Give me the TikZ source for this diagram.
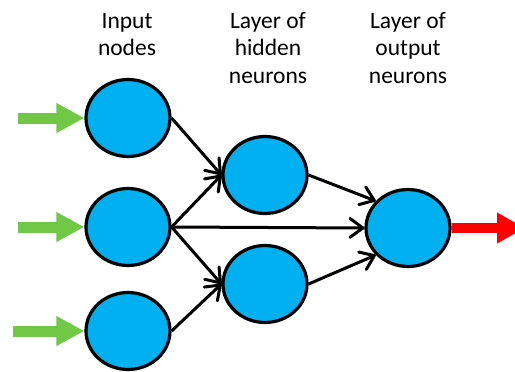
\documentclass[tikz,border=0pt]{standalone}
\usepackage{fontspec}
\setmainfont{Carlito}
\usepackage{tikz}
\usetikzlibrary{shapes.geometric,arrows.meta}
\definecolor{neuronblue}{RGB}{0,176,240}
\definecolor{ingreen}{RGB}{112,200,70}
\definecolor{outred}{RGB}{255,0,0}
\tikzset{
  neuron/.style={ellipse,draw=black,fill=neuronblue,line width=3.2pt,minimum width=84pt,minimum height=77pt,inner sep=0pt},
  link/.style={line width=3pt,-{Straight Barb[length=13pt,width=19pt,round]}},
  inarrow/.style={ingreen,line width=11pt,-{Triangle[length=28pt,width=28pt]}},
  outarrow/.style={outred,line width=10pt,-{Triangle[length=28pt,width=29pt]}},
  caption/.style={align=center,anchor=base,inner sep=0pt,font=\fontsize{23.5}{27.5}\selectfont}
}

\begin{document}
\begin{tikzpicture}[x=1pt,y=-1pt]
        \useasboundingbox (0,0) rectangle (515,372);
        \node[caption] (tin) at (127,56) {Input\\nodes};
        \node[caption] (thid) at (268,83) {Layer of\\hidden\\neurons};
        \node[caption] (tout) at (408,83) {Layer of\\output\\neurons};
        \node[neuron] (in1) at (128,118) {};
        \node[neuron] (in2) at (128,227) {};
        \node[neuron] (in3) at (128,331) {};
        \node[neuron] (hid1) at (265,175) {};
        \node[neuron] (hid2) at (265,284) {};
        \node[neuron] (out) at (408,228) {};
        % inputs and output
        \coordinate (g1) at (18,118);
        \coordinate (g2) at (18,227);
        \coordinate (g3) at (13,331);
        \coordinate (r1) at (525,228);
        \draw[inarrow] (g1) -- (in1.west);
        \draw[inarrow] (g2) -- (in2.west);
        \draw[inarrow] (g3) -- (in3.west);
        \draw[outarrow] (out.east) -- (r1);
        % connections
        \draw[link] (in1.east) -- (hid1.west);
        \draw[link] (in2.east) -- (hid1.west);
        \draw[link] (in2.east) -- (hid2.west);
        \draw[link] (in3.east) -- (hid2.west);
        \draw[link] (in2.east) -- (out.west);
        \draw[link] (hid1.east) -- (out.140);
        \draw[link] (hid2.east) -- (out.220);
    \end{tikzpicture}
\end{document}
